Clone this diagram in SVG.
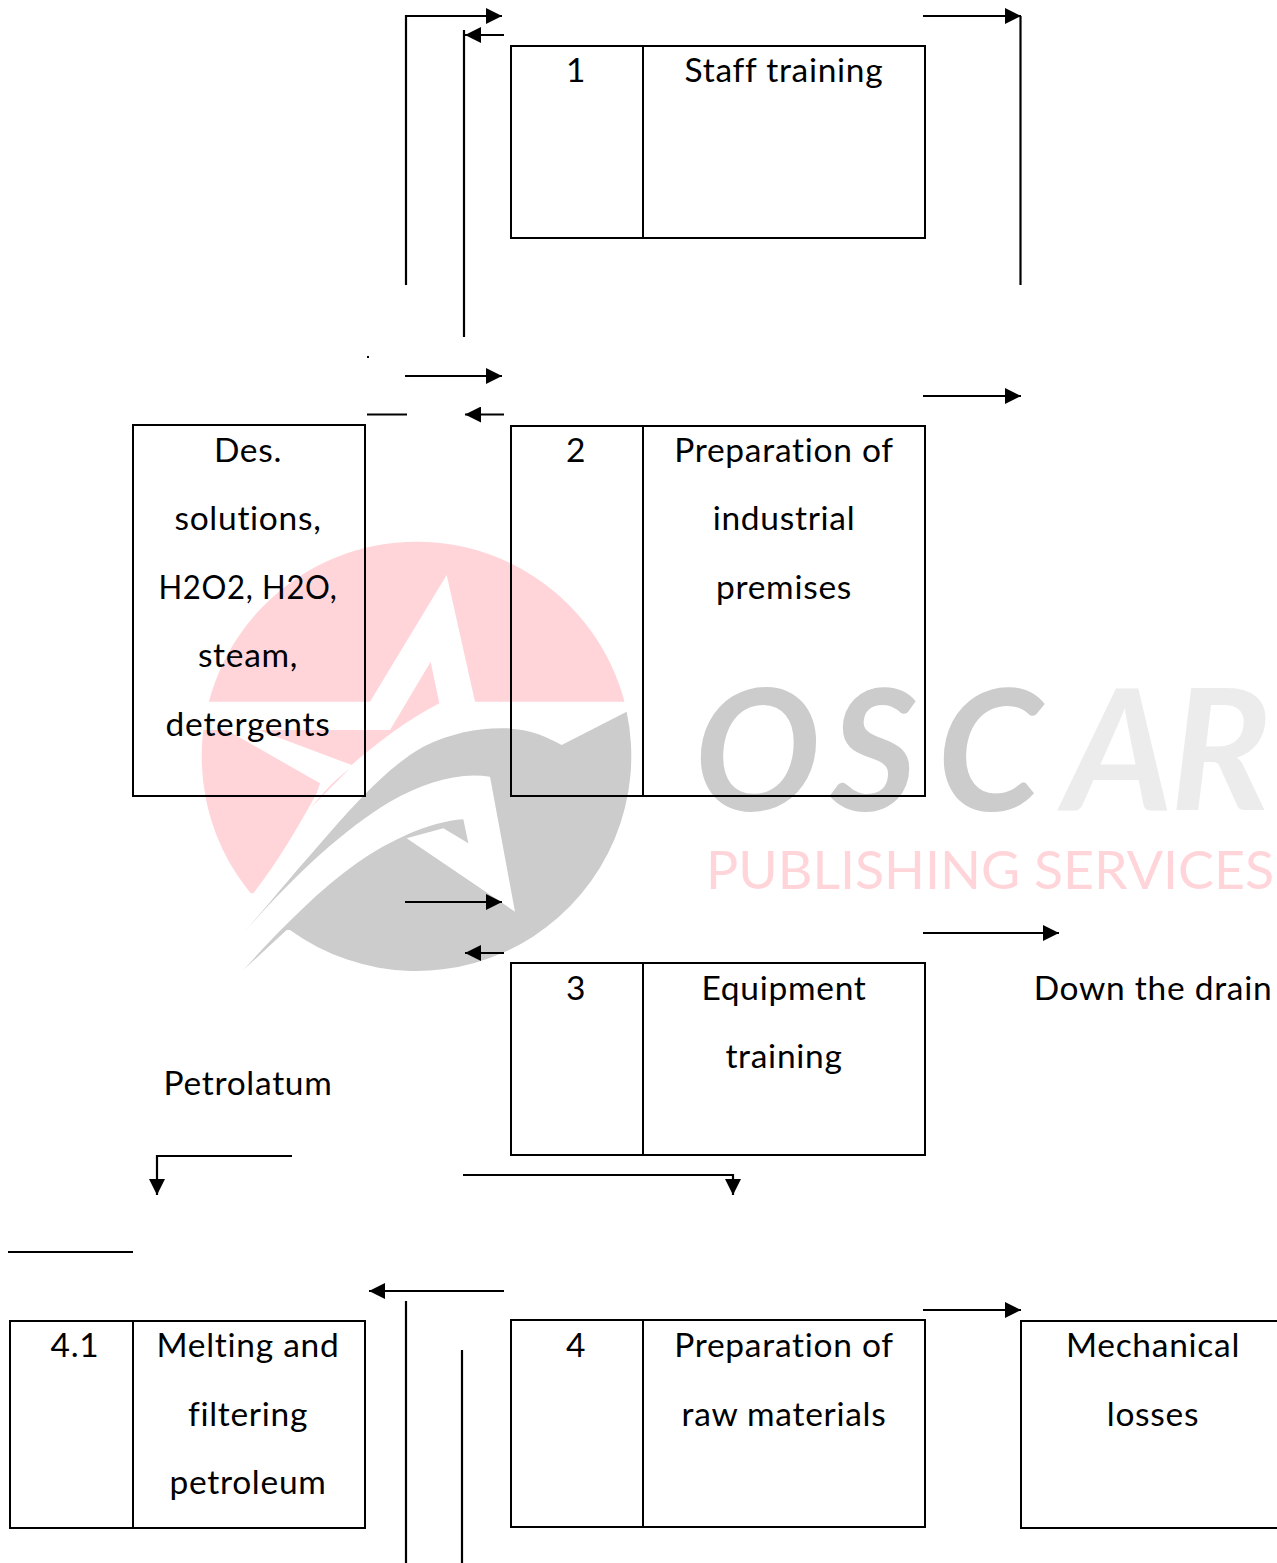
<svg xmlns="http://www.w3.org/2000/svg" width="1277" height="1563" viewBox="0 0 1277 1563">
<style>
.box{fill:none;stroke:#000;stroke-width:2}
.c{fill:none;stroke:#000;stroke-width:2.2}
.a{marker-end:url(#arrow)}
text.t{font-family:"Lato","Carlito","Open Sans",sans-serif;font-size:33.5px;letter-spacing:.72px;fill:#000;text-anchor:middle}
.wm{font-family:"Lato","Open Sans",sans-serif;font-size:168px;font-weight:700;font-style:italic}
</style>
<defs>
<marker id="arrow" markerUnits="userSpaceOnUse" markerWidth="17" markerHeight="16" refX="16" refY="8" orient="auto"><path d="M0,0 L16,8 L0,16 Z" fill="#000"/></marker>
<clipPath id="disc"><circle cx="680" cy="680" r="645"/></clipPath>
</defs>
<rect width="1277" height="1563" fill="#fff"/>
<g id="watermark">
<g transform="translate(190,530) scale(0.33333)">
<g clip-path="url(#disc)" fill="#ffd5da">
<path d="M0,0 H1380 V515 H855 L770,135 L540,515 H0 Z"/>
<path d="M722,395 L748,520 C650,570 560,640 485,705 L205,600 L600,600 Z"/>
<path d="M0,600 H110 L390,760 L380,790 C320,900 260,1000 190,1090 L0,1090 Z"/>
</g>
<path fill="#ffd5da" d="M362,835 C400,785 440,745 480,715 C440,755 400,795 362,835 Z"/>
<path fill="#cccccc" d="M160,1320 C260,1210 380,1085 500,1000 C600,930 720,875 820,868 L835,940 L760,895 L650,925 L975,1145 L900,740 C800,725 700,760 600,815 C450,905 300,1050 155,1215 C230,1130 320,1020 400,930 C470,850 590,710 700,650 C790,605 880,592 950,595 C1020,597 1070,620 1115,645 L1310,545 A645,645 0 0 1 300,1200 L290,1200 Z"/>
</g>
<text class="wm" fill="#cccccc" y="811"><tspan x="694">O</tspan><tspan x="830">S</tspan><tspan x="937">C</tspan></text>
<text class="wm" fill="#ececec" y="810"><tspan x="1064">A</tspan><tspan x="1170">R</tspan></text>
<text x="706" y="889" font-family="Lato,'Open Sans',sans-serif" font-size="52" fill="#ffd5da" textLength="568" lengthAdjust="spacingAndGlyphs">PUBLISHING SERVICES</text>
</g>
<g id="connectors">
<path class="c a" d="M406,285 V16 H502"/>
<path class="c a" d="M504,35 H465"/>
<path class="c" d="M464,30 V337"/>
<path class="c a" d="M923,16 H1021"/>
<path class="c" d="M1020.500,16 V285"/>
<path d="M367,356 h2 v2 h-2 Z" fill="#000"/>
<path class="c a" d="M405,376 H502"/>
<path class="c" d="M367,414.500 H407"/>
<path class="c a" d="M504,414.500 H465"/>
<path class="c a" d="M923,396 H1021"/>
<path class="c a" d="M405,902 H502"/>
<path class="c a" d="M504,953 H465"/>
<path class="c a" d="M923,933 H1059"/>
<path class="c a" d="M292,1156 H157 V1195"/>
<path class="c a" d="M463,1175 H733 V1195"/>
<path class="c" d="M8,1252 H133"/>
<path class="c a" d="M504,1291 H369"/>
<path class="c" d="M406,1301 V1563"/>
<path class="c" d="M462,1350 V1563"/>
<path class="c a" d="M923,1310 H1021"/>
</g>
<g id="node-1">
<rect class="box" x="511" y="46" width="414" height="192"/>
<path class="box" d="M643,46 V238"/>
<text class="t" x="576" y="82">1</text>
<text class="t" x="784" y="82">Staff training</text>
</g>
<g id="node-des">
<rect class="box" x="133" y="425" width="232" height="371"/>
<text class="t" x="248" y="462">Des.</text>
<text class="t" x="248" y="530">solutions,</text>
<text class="t" x="248" y="599" textLength="179" lengthAdjust="spacingAndGlyphs">H2O2, H2O,</text>
<text class="t" x="248" y="667">steam,</text>
<text class="t" x="248" y="736">detergents</text>
</g>
<g id="node-2">
<rect class="box" x="511" y="426" width="414" height="370"/>
<path class="box" d="M643,426 V796"/>
<text class="t" x="576" y="462">2</text>
<text class="t" x="784" y="462">Preparation of</text>
<text class="t" x="784" y="530">industrial</text>
<text class="t" x="784" y="599">premises</text>
</g>
<g id="node-3">
<rect class="box" x="511" y="963" width="414" height="192"/>
<path class="box" d="M643,963 V1155"/>
<text class="t" x="576" y="1000">3</text>
<text class="t" x="784" y="1000">Equipment</text>
<text class="t" x="784" y="1068">training</text>
</g>
<g id="node-drain"><text class="t" x="1153" y="1000">Down the drain</text></g>
<g id="node-petrolatum"><text class="t" x="248" y="1095">Petrolatum</text></g>
<g id="node-41">
<rect class="box" x="10" y="1321" width="355" height="207"/>
<path class="box" d="M133,1321 V1528"/>
<text class="t" x="75" y="1357">4.1</text>
<text class="t" x="248" y="1357">Melting and</text>
<text class="t" x="248" y="1426">filtering</text>
<text class="t" x="248" y="1494">petroleum</text>
</g>
<g id="node-4">
<rect class="box" x="511" y="1320" width="414" height="207"/>
<path class="box" d="M643,1320 V1527"/>
<text class="t" x="576" y="1357">4</text>
<text class="t" x="784" y="1357">Preparation of</text>
<text class="t" x="784" y="1426">raw materials</text>
</g>
<g id="node-losses">
<rect class="box" x="1021" y="1321" width="270" height="207"/>
<text class="t" x="1153" y="1357">Mechanical</text>
<text class="t" x="1153" y="1426">losses</text>
</g>
</svg>
